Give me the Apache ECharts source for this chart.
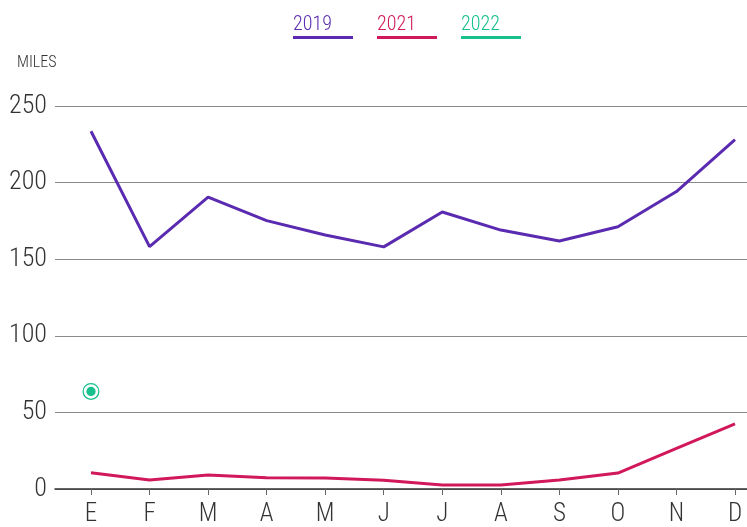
<!DOCTYPE html>
<html>
<head>
<meta charset="utf-8">
<script src="https://cdn.jsdelivr.net/npm/echarts@6/dist/echarts.min.js"></script>
<style>
html,body{margin:0;padding:0;background:#fff;}
#chart{width:747px;height:527px;}
</style>
</head>
<body>
<div id="chart"></div>
<script>
const months = ['E','F','M','A','M','J','J','A','S','O','N','D'];
const yTicks = [0, 50, 100, 150, 200, 250];
const names = ['2019', '2021', '2022'];
const values2019 = [233.5, 158, 190.3, 175, 165.6, 157.8, 180.6, 168.8, 161.7, 171, 194, 228];
const values2021 = [10, 5.2, 8.5, 6.7, 6.5, 5, 2, 2, 5.3, 9.8, 25.9, 42];
const values2022 = [63.2, null, null, null, null, null, null, null, null, null, null, null];
const colors = ['#5a2bb0', '#d0185a', '#17c08c'];

const FONT = "'Roboto Condensed', 'Liberation Sans Narrow', 'Roboto', sans-serif";
const chart = echarts.init(document.getElementById('chart'), null, {renderer: 'canvas'});

const ringSymbol = 'path://M0,-8.6A8.6,8.6 0 1,1 0,8.6A8.6,8.6 0 1,1 0,-8.6Z' +
  'M0,-7.3A7.3,7.3 0 1,0 0,7.3A7.3,7.3 0 1,0 0,-7.3Z' +
  'M0,-4.7A4.7,4.7 0 1,1 0,4.7A4.7,4.7 0 1,1 0,-4.7Z';

const rich = {};
names.forEach((n, i) => {
  rich['t' + i] = {fontFamily: FONT, fontSize: 20, fontWeight: 300, color: colors[i], lineHeight: 22, width: 60, align: 'left'};
  rich['u' + i] = {width: 60, height: 3, lineHeight: 3, backgroundColor: colors[i]};
});

chart.setOption({
  animation: false,
  backgroundColor: '#fff',
  title: {
    text: 'MILES', left: 12, top: 50,
    textStyle: {fontFamily: FONT, fontSize: 16, fontWeight: 300, color: '#333'}
  },
  legend: {
    left: 283, top: 10, itemGap: 19, itemWidth: 0, itemHeight: 0,
    icon: 'rect', selectedMode: false,
    data: names.map(n => ({name: n})),
    formatter: function (name) {
      const i = names.indexOf(name);
      return '{t' + i + '|' + name + '}\n{u' + i + '|}';
    },
    textStyle: {rich: rich, padding: 0}
  },
  grid: [
    {left: 55, right: 0, top: 106, bottom: 38, containLabel: false},
    {left: 91, right: 12, top: 106, bottom: 38, containLabel: false}
  ],
  xAxis: [
    {type: 'value', gridIndex: 0, min: 0, max: 1,
     axisLine: {show: true, lineStyle: {color: '#333', width: 1.5}},
     axisTick: {show: false}, axisLabel: {show: false}, splitLine: {show: false}},
    {type: 'category', gridIndex: 1, boundaryGap: false, data: months,
     axisLine: {show: false},
     axisTick: {show: true, length: 7, lineStyle: {color: '#666', width: 1}},
     axisLabel: {margin: 14, fontFamily: FONT, fontSize: 25, fontWeight: 300, color: '#333'},
     splitLine: {show: false}}
  ],
  yAxis: [
    {type: 'value', gridIndex: 0, min: 0, max: 250, interval: 50,
     axisLine: {show: false}, axisTick: {show: false},
     axisLabel: {margin: 8, fontFamily: FONT, fontSize: 26, fontWeight: 300, color: '#333',
       customValues: yTicks},
     splitLine: {show: true, lineStyle: {color: '#8a8a8a', width: 1}}},
    {type: 'value', gridIndex: 1, min: 0, max: 250, interval: 50, show: false,
     splitLine: {show: false}}
  ],
  series: [
    {name: names[0], type: 'line', xAxisIndex: 1, yAxisIndex: 1, data: values2019,
     color: colors[0], symbol: 'none', lineStyle: {width: 3, color: colors[0]}},
    {name: names[1], type: 'line', xAxisIndex: 1, yAxisIndex: 1, data: values2021,
     color: colors[1], symbol: 'none', lineStyle: {width: 3, color: colors[1]}},
    {name: names[2], type: 'line', xAxisIndex: 1, yAxisIndex: 1, data: values2022,
     color: colors[2], symbol: ringSymbol, symbolSize: 17, showSymbol: true,
     itemStyle: {color: colors[2]}, lineStyle: {width: 3, color: colors[2]}}
  ]
});
</script>
</body>
</html>
